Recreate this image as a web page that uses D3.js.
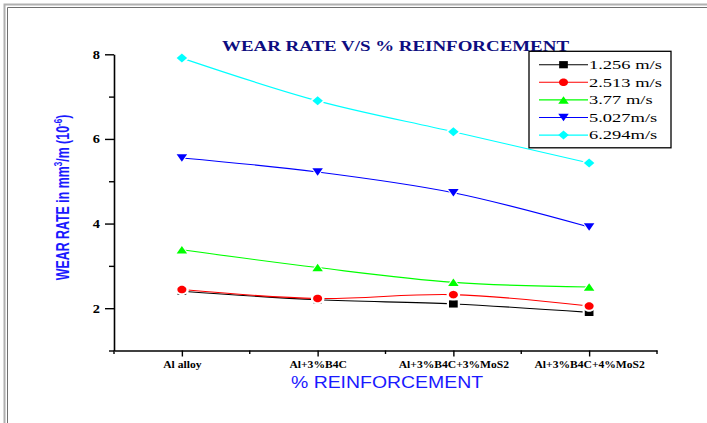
<!DOCTYPE html>
<html>
<head>
<meta charset="utf-8">
<script src="https://cdn.jsdelivr.net/npm/d3@7"></script>
<style>
  html, body { margin: 0; padding: 0; background: #fff; }
  svg { display: block; }
</style>
</head>
<body>
<svg id="chart" width="707" height="423"></svg>
<script>
// Wear rate (x10^-6 mm^3/m) for each sliding speed across the reinforcement mixes
const categories = ["Al alloy", "Al+3%B4C", "Al+3%B4C+3%MoS2", "Al+3%B4C+4%MoS2"];
const speeds = ["1.256 m/s", "2.513 m/s", "3.77 m/s", "5.027m/s", "6.294m/s"];
const wear_1256 = [2.40, 2.20, 2.10, 1.90];
const wear_2513 = [2.44, 2.23, 2.32, 2.05];
const wear_377  = [3.38, 2.96, 2.61, 2.50];
const wear_5027 = [5.55, 5.22, 4.73, 3.92];
const wear_6294 = [7.91, 6.90, 6.17, 5.43];
const majorTicks = [2, 4, 6, 8];
const minorTicks = [1, 3, 5, 7];

const seriesValues = [wear_1256, wear_2513, wear_377, wear_5027, wear_6294];
const colors = ["#000000", "#ff0000", "#00ff00", "#0000ff", "#00ffff"];
const shapes = ["square", "circle", "triangleUp", "triangleDown", "diamond"];

const svg = d3.select("#chart");

// page frame
svg.append("path").attr("d", "M4.5,423 V4.5 H707").attr("fill", "none")
  .attr("stroke", "#b0b0b0").attr("stroke-width", 2);
svg.append("path").attr("d", "M7.5,423 V7.5 H707").attr("fill", "none")
  .attr("stroke", "#707070").attr("stroke-width", 1);

const x = d3.scalePoint().domain(categories).range([114, 657]).padding(0.5);
const y = d3.scaleLinear().domain([1, 8]).range([350.5, 54.3]);

const axisFont = "'Liberation Serif','Times New Roman',serif";

// y axis
const yAxis = svg.append("g").attr("transform", "translate(114,0)")
  .call(d3.axisLeft(y).tickValues(majorTicks).tickFormat(d3.format("d"))
    .tickSize(9).tickPadding(5).tickSizeOuter(0));
yAxis.select(".domain").attr("stroke-width", 1.6);
yAxis.selectAll(".tick line").attr("stroke-width", 1.4);
yAxis.selectAll(".tick text").attr("font-family", axisFont).attr("font-weight", "bold")
  .attr("font-size", 12).attr("fill", "#000")
  .attr("transform", "translate(-14,0) scale(1.2,1)").attr("x", 0).attr("text-anchor", "end");
svg.append("g").attr("transform", "translate(114,0)")
  .call(d3.axisLeft(y).tickValues(minorTicks).tickSize(5).tickFormat(""))
  .call(g => g.select(".domain").remove())
  .selectAll(".tick line").attr("stroke-width", 1.4);

// x axis
const xAxis = svg.append("g").attr("transform", "translate(0,350.5)")
  .call(d3.axisBottom(x).tickSize(6).tickPadding(4).tickSizeOuter(0));
xAxis.select(".domain").attr("stroke-width", 1.6);
xAxis.selectAll(".tick line").attr("stroke-width", 1.4);
xAxis.selectAll(".tick text").attr("font-family", axisFont).attr("font-weight", "bold")
  .attr("font-size", 10).attr("fill", "#000").attr("transform", "scale(1.16,1)");
// minor ticks between categories
const step = x.step();
const bounds = d3.range(categories.length + 1).map(i => x(categories[0]) - step / 2 + i * step);
svg.append("g").selectAll("line").data(bounds).join("line")
  .attr("x1", d => d).attr("x2", d => d).attr("y1", 350.5).attr("y2", 354)
  .attr("stroke", "#000").attr("stroke-width", 1.4);

// series lines
const line = d3.line().x((d, i) => x(categories[i])).y(d => y(d)).curve(d3.curveCatmullRom.alpha(0.5));
seriesValues.forEach((vals, s) => {
  svg.append("path").datum(vals).attr("d", line).attr("fill", "none")
    .attr("stroke", colors[s]).attr("stroke-width", 1.1);
});

// marker outline for a given shape, w x h box centred on the origin
function shapePath(shape, w, h) {
  const p = d3.path();
  const a = w / 2, b = h / 2;
  if (shape === "square") { p.rect(-a, -b, w, h); }
  else if (shape === "circle") {
    p.moveTo(a, 0);
    for (let k = 1; k <= 32; k++) {
      const t = (k / 32) * 2 * Math.PI;
      p.lineTo(a * Math.cos(t), b * Math.sin(t));
    }
    p.closePath();
  }
  else if (shape === "triangleUp") { p.moveTo(0, -b); p.lineTo(a, b); p.lineTo(-a, b); p.closePath(); }
  else if (shape === "triangleDown") { p.moveTo(0, b); p.lineTo(a, -b); p.lineTo(-a, -b); p.closePath(); }
  else { p.moveTo(0, -b); p.lineTo(a, 0); p.lineTo(0, b); p.lineTo(-a, 0); p.closePath(); }
  return p.toString();
}
const markerSize = {
  square: [8.7, 7.2], circle: [9, 7.6], triangleUp: [10.5, 7.5],
  triangleDown: [10.5, 7.5], diamond: [10.5, 9]
};
function marker(g, s, cx, cy, halo) {
  const [w, h] = markerSize[shapes[s]];
  const k = halo ? 1.5 : 1;
  g.append("path").attr("d", shapePath(shapes[s], w * k, h * k))
    .attr("transform", `translate(${cx},${cy})`)
    .attr("fill", halo ? "#fff" : colors[s]);
}
seriesValues.forEach((vals, s) => {
  const g = svg.append("g");
  vals.forEach((v, i) => marker(g, s, x(categories[i]), y(v), true));
  vals.forEach((v, i) => marker(g, s, x(categories[i]), y(v), false));
});

// title
svg.append("text").attr("x", 395.5).attr("y", 51).attr("text-anchor", "middle")
  .attr("font-family", axisFont).attr("font-weight", "bold").attr("font-size", 15)
  .attr("fill", "#0d0d80").attr("textLength", 347).attr("lengthAdjust", "spacingAndGlyphs")
  .text("WEAR RATE V/S % REINFORCEMENT");

// x axis title
svg.append("text").attr("transform", "translate(387,388.3) scale(1.2,1)").attr("text-anchor", "middle")
  .attr("font-family", "'Liberation Sans',Arial,sans-serif").attr("font-size", 16.2)
  .attr("fill", "#1a1aff").text("% REINFORCEMENT");

// y axis title
const yt = svg.append("text").attr("transform", "translate(69,197.5) scale(1.44,1) rotate(-90)")
  .attr("text-anchor", "middle")
  .attr("font-family", "'Liberation Sans',Arial,sans-serif").attr("font-weight", "bold")
  .attr("font-size", 12.4).attr("fill", "#1a1aff");
yt.append("tspan").text("WEAR RATE in mm");
yt.append("tspan").attr("dy", -5).attr("font-size", 8).text("3");
yt.append("tspan").attr("dy", 5).text("/m (10");
yt.append("tspan").attr("dy", -5).attr("font-size", 8).text("-6");
yt.append("tspan").attr("dy", 5).text(")");

// legend
const lg = svg.append("g");
lg.append("rect").attr("x", 529).attr("y", 51.3).attr("width", 142).attr("height", 96.5)
  .attr("fill", "#fff").attr("stroke", "#000").attr("stroke-width", 1.3);
speeds.forEach((label, s) => {
  const ry = 64.7 + s * 17.6;
  lg.append("line").attr("x1", 539).attr("x2", 588).attr("y1", ry).attr("y2", ry)
    .attr("stroke", colors[s]).attr("stroke-width", 1.1);
  marker(lg, s, 563.5, ry, false);
  lg.append("text").attr("transform", `translate(589,${ry + 4.3}) scale(1.48,1)`)
    .attr("font-family", axisFont).attr("font-size", 12.5).attr("fill", "#000").text(label);
});
</script>
</body>
</html>
